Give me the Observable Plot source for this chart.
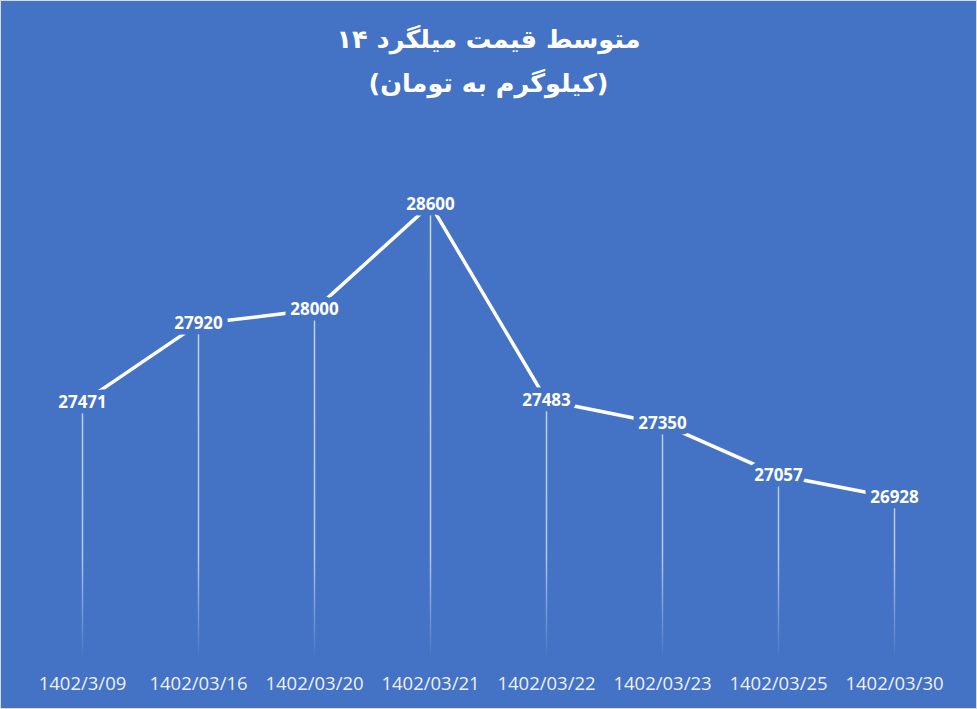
<!DOCTYPE html>
<html>
<head>
<meta charset="utf-8">
<script src="https://cdn.jsdelivr.net/npm/d3@7"></script>
<script src="https://cdn.jsdelivr.net/npm/@observablehq/plot@0.6"></script>
<style>
  html, body { margin: 0; padding: 0; background: #ffffff; }
  #wrap {
    width: 977px; height: 709px; box-sizing: border-box;
    border: 1px solid #d9d9d9; background: #4472C4; overflow: hidden;
  }
  #title {
    height: 109px; box-sizing: border-box; padding-top: 16px;
    color: #ffffff; text-align: center; direction: rtl;
    font-family: "DejaVu Sans", sans-serif; font-weight: bold; font-size: 25.5px; line-height: 44px;
  }
  #chart svg { display: block; }
</style>
</head>
<body>
<div id="wrap">
  <div id="title">
    <div>متوسط قیمت میلگرد ۱۴</div>
    <div>(کیلوگرم به تومان)</div>
  </div>
  <div id="chart"></div>
</div>
<script>
const dates = ["1402/3/09", "1402/03/16", "1402/03/20", "1402/03/21", "1402/03/22", "1402/03/23", "1402/03/25", "1402/03/30"];
const prices = [27471, 27920, 28000, 28600, 27483, 27350, 27057, 26928];
const yDomain = [26000, 29000];

const data = dates.map((d, i) => ({date: d, price: prices[i]}));
const bg = "#4472C4";

const chart = Plot.plot({
  width: 975,
  height: 598,
  marginLeft: 23,
  marginRight: 24,
  marginTop: 24,
  marginBottom: 48,
  style: {background: bg, color: "#ffffff", fontFamily: "'Open Sans', sans-serif"},
  x: {type: "point", domain: dates, padding: 0.5},
  y: {domain: yDomain, axis: null},
  marks: [
    Plot.ruleX(data, {x: "date", y1: yDomain[0], y2: "price", stroke: "url(#dropGrad)", strokeWidth: 1.5}),
    Plot.line(data, {x: "date", y: "price", stroke: "#ffffff", strokeWidth: 3.5}),
    Plot.text(data, {
      x: "date", y: "price", text: d => String(d.price),
      fill: "#ffffff", stroke: bg, strokeWidth: 11, paintOrder: "stroke",
      fontWeight: "bold", fontSize: 17, fontFamily: "'Open Sans', sans-serif"
    }),
    Plot.axisX({tickSize: 0, tickPadding: 16, fontSize: 18.5, fill: "#eef1f8", label: null})
  ]
});

d3.select(chart).insert("defs", ":first-child").html(`
  <linearGradient id="dropGrad" gradientUnits="userSpaceOnUse" x1="0" y1="24" x2="0" y2="550">
    <stop offset="0" stop-color="#ffffff" stop-opacity="0.72"/>
    <stop offset="0.8" stop-color="#ffffff" stop-opacity="0.62"/>
    <stop offset="1" stop-color="#ffffff" stop-opacity="0"/>
  </linearGradient>`);

document.getElementById("chart").appendChild(chart);
</script>
</body>
</html>
